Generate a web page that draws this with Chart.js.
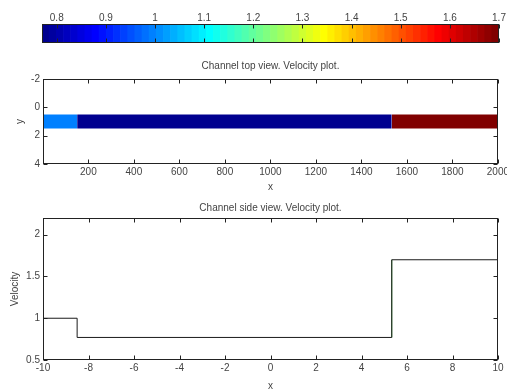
<!DOCTYPE html>
<html>
<head>
<meta charset="utf-8">
<script src="https://cdn.jsdelivr.net/npm/chart.js@4.4.1/dist/chart.umd.min.js"></script>
<style>
html, body { margin: 0; padding: 0; background: #fff; overflow: hidden; }
#wrap { position: relative; width: 507px; height: 389px; overflow: hidden; }
canvas { position: absolute; left: 0; }
</style>
</head>
<body>
<div id="wrap">
  <canvas id="cbar" width="507" height="50" style="top:0;width:507px;height:50px"></canvas>
  <canvas id="topView" width="520" height="150" style="top:50px;width:520px;height:150px"></canvas>
  <canvas id="sideView" width="507" height="194" style="top:195px;width:507px;height:194px"></canvas>
</div>
<script>
// side view: velocity steps along the channel
const sideX = [-10, -8.5, 5.33, 10];
const sideV = [1, 0.77, 1.7, 1.7];

// top view: image columns (1..2000) and their velocity
const cellEdges = [0.5, 150.5, 1533.5, 2000.5];
const cellV = [1, 0.77, 1.7];
const cellRow = [0.5, 1.5];

// tick labels
const cbarTicks = [0.8, 0.9, 1, 1.1, 1.2, 1.3, 1.4, 1.5, 1.6, 1.7];
const topXTicks = [200, 400, 600, 800, 1000, 1200, 1400, 1600, 1800, 2000];
const topYTicks = [-2, 0, 2, 4];
const sideXTicks = [-10, -8, -6, -4, -2, 0, 2, 4, 6, 8, 10];
const sideYTicks = [0.5, 1, 1.5, 2];

const cMin = Math.min(...cellV);
const cMax = Math.max(...cellV);
const FONT = { family: '"Liberation Sans", Arial, sans-serif', size: 10 };
const TXT = '#444';

// matlab jet(64), row k = 1..64
function jetRow(k) {
    const u = j => j < 1 ? 0 : j <= 16 ? j / 16 : j <= 31 ? 1 : j <= 47 ? (48 - j) / 16 : 0;
    const c = v => Math.round(v * 255);
    return 'rgb(' + c(u(k - 24)) + ',' + c(u(k - 8)) + ',' + c(u(k + 8)) + ')';
}
function valueColor(v) {
    const k = Math.floor((v - cMin) / (cMax - cMin) * 64) + 1;
    return jetRow(Math.max(1, Math.min(64, k)));
}

const fmt = v => String(+Number(v).toFixed(2));
const fixTicks = list => scale => { scale.ticks = list.map(v => ({ value: v })); };

// box, inward ticks on both sides, titles and axis labels
const matlabBox = {
    id: 'matlabBox',
    afterDraw(chart, args, o) {
        const ctx = chart.ctx;
        const a = chart.chartArea;
        const L = Math.round(a.left) + 0.5, R = Math.round(a.right) - 0.5;
        const T = Math.round(a.top) + 0.5, B = Math.round(a.bottom) - 0.5;
        const len = o.tick || 4;
        ctx.save();
        ctx.strokeStyle = '#222';
        ctx.lineWidth = 1;
        ctx.beginPath();
        if (o.xTicks) {
            const sx = chart.scales.x;
            sx.ticks.forEach(t => {
                const px = Math.round(sx.getPixelForValue(t.value)) + 0.5;
                ctx.moveTo(px, B); ctx.lineTo(px, B - len);
                ctx.moveTo(px, T); ctx.lineTo(px, T + len);
            });
        }
        if (o.yTicks) {
            const sy = chart.scales.y;
            sy.ticks.forEach(t => {
                const py = Math.round(sy.getPixelForValue(t.value)) + 0.5;
                ctx.moveTo(L, py); ctx.lineTo(L + len, py);
                ctx.moveTo(R, py); ctx.lineTo(R - len, py);
            });
        }
        ctx.stroke();
        ctx.strokeRect(L, T, R - L, B - T);

        ctx.fillStyle = TXT;
        ctx.font = FONT.size + 'px ' + FONT.family;
        ctx.textAlign = 'center';
        ctx.textBaseline = 'middle';
        const cx = (a.left + a.right) / 2;
        if (o.title) ctx.fillText(o.title, cx, o.titleY);
        if (o.xLabel) ctx.fillText(o.xLabel, cx, o.xLabelY);
        if (o.yLabel) {
            ctx.translate(o.yLabelX, (a.top + a.bottom) / 2);
            ctx.rotate(-Math.PI / 2);
            ctx.fillText(o.yLabel, 0, 0);
        }
        ctx.restore();
    }
};

const baseOpts = {
    responsive: false,
    animation: false,
    events: [],
};

// colour bar
new Chart(document.getElementById('cbar'), {
    type: 'bar',
    data: {
        labels: ['c'],
        datasets: [{
            data: Array.from({ length: 64 }, (_, i) => ({
                x: [cMin + i * (cMax - cMin) / 64, cMin + (i + 1) * (cMax - cMin) / 64],
                y: 'c'
            })),
            backgroundColor: Array.from({ length: 64 }, (_, i) => jetRow(i + 1)),
            borderWidth: 0,
            barPercentage: 1,
            categoryPercentage: 1
        }]
    },
    options: Object.assign({}, baseOpts, {
        indexAxis: 'y',
        layout: { padding: { left: 42, right: 8, top: 0, bottom: 7 } },
        scales: {
            x: {
                type: 'linear', position: 'top', min: cMin, max: cMax,
                afterBuildTicks: fixTicks(cbarTicks),
                afterFit: s => { s.height = 24; },
                grid: { display: false, drawTicks: false },
                border: { display: false },
                ticks: { font: FONT, color: TXT, padding: 0, maxRotation: 0, callback: fmt }
            },
            y: { display: false }
        },
        plugins: { legend: { display: false }, tooltip: { enabled: false }, matlabBox: { xTicks: true } }
    }),
    plugins: [matlabBox]
});

// top view
const topSets = [];
cellV.forEach((v, i) => {
    topSets.push({
        data: [{ x: cellEdges[i], y: cellRow[0] }, { x: cellEdges[i + 1], y: cellRow[0] }],
        borderColor: 'transparent', pointRadius: 0, fill: false
    });
    topSets.push({
        data: [{ x: cellEdges[i], y: cellRow[1] }, { x: cellEdges[i + 1], y: cellRow[1] }],
        borderColor: 'transparent', pointRadius: 0, fill: '-1',
        backgroundColor: valueColor(v)
    });
});

new Chart(document.getElementById('topView'), {
    type: 'line',
    data: { datasets: topSets },
    options: Object.assign({}, baseOpts, {
        layout: { padding: { left: 0, right: 22, top: 29, bottom: 16 } },
        scales: {
            x: {
                type: 'linear', min: cellEdges[0], max: cellEdges[cellEdges.length - 1],
                afterBuildTicks: fixTicks(topXTicks),
                afterFit: s => { s.height = 20; },
                grid: { display: false, drawTicks: false },
                border: { display: false },
                ticks: { font: FONT, color: TXT, padding: 2, maxRotation: 0, callback: fmt }
            },
            y: {
                type: 'linear', reverse: true, min: -2, max: 4,
                afterBuildTicks: fixTicks(topYTicks),
                afterFit: s => { s.width = 43; },
                grid: { display: false, drawTicks: false },
                border: { display: false },
                ticks: { font: FONT, color: TXT, padding: 3, callback: fmt }
            }
        },
        plugins: {
            legend: { display: false }, tooltip: { enabled: false },
            matlabBox: {
                xTicks: true, yTicks: true,
                title: 'Channel top view. Velocity plot.', titleY: 16,
                xLabel: 'x', xLabelY: 137, yLabel: 'y', yLabelX: 20
            }
        }
    }),
    plugins: [matlabBox]
});

// side view
new Chart(document.getElementById('sideView'), {
    type: 'line',
    data: {
        datasets: [{
            data: sideX.map((x, i) => ({ x: x, y: sideV[i] })),
            stepped: true,
            borderColor: '#1a1a1a', borderWidth: 1, pointRadius: 0, fill: false
        }, {
            data: [{ x: sideX[2], y: sideV[1] }, { x: sideX[2], y: sideV[2] }],
            borderColor: 'rgb(60,160,60)', borderWidth: 1, pointRadius: 0, fill: false
        }]
    },
    options: Object.assign({}, baseOpts, {
        layout: { padding: { left: 0, right: 9, top: 23, bottom: 9 } },
        scales: {
            x: {
                type: 'linear', min: -10, max: 10,
                afterBuildTicks: fixTicks(sideXTicks),
                afterFit: s => { s.height = 20; },
                grid: { display: false, drawTicks: false },
                border: { display: false },
                ticks: { font: FONT, color: TXT, padding: 2, maxRotation: 0, callback: fmt }
            },
            y: {
                type: 'linear', min: 0.5, max: 2.2,
                afterBuildTicks: fixTicks(sideYTicks),
                afterFit: s => { s.width = 43; },
                grid: { display: false, drawTicks: false },
                border: { display: false },
                ticks: { font: FONT, color: TXT, padding: 3, callback: fmt }
            }
        },
        plugins: {
            legend: { display: false }, tooltip: { enabled: false },
            matlabBox: {
                xTicks: true, yTicks: true,
                title: 'Channel side view. Velocity plot.', titleY: 13,
                xLabel: 'x', xLabelY: 191, yLabel: 'Velocity', yLabelX: 15
            }
        }
    }),
    plugins: [matlabBox]
});
</script>
</body>
</html>
